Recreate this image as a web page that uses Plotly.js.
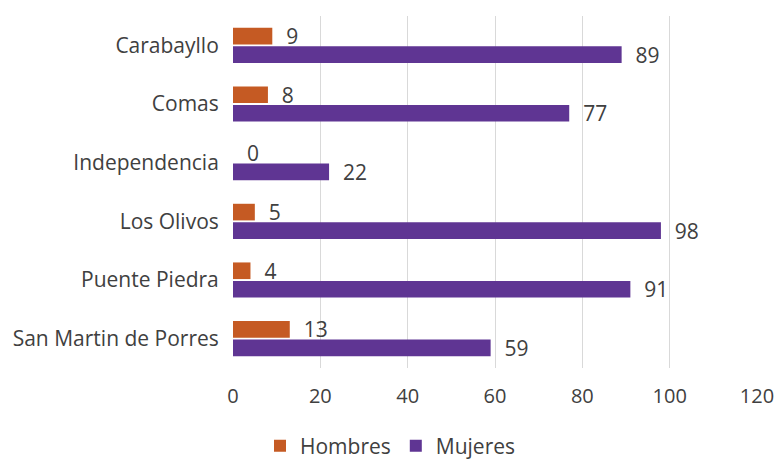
<!DOCTYPE html>
<html><head><meta charset="utf-8">
<script src="https://cdn.plot.ly/plotly-3.0.1.min.js"></script>
<style>html,body{margin:0;padding:0;background:#fff}#c{width:781px;height:459px}</style>
</head><body><div id="c"></div>
<script>
const categories = ["Carabayllo","Comas","Independencia","Los Olivos","Puente Piedra","San Martin de Porres"];
const hombres = [9,8,0,5,4,13];
const mujeres = [89,77,22,98,91,59];
const xTicks = [0,20,40,60,80,100,120];

const fam = "'Open Sans', 'Noto Sans', sans-serif";
const font = {family: fam, size: 21, color: "#404040"};
const tickFont = {family: fam, size: 20, color: "#404040"};
const traces = [
  {type:"bar", orientation:"h", name:"Hombres", y:categories, x:hombres,
   marker:{color:"#C55A23"}, text:hombres.map(v=>"  "+v), textposition:"outside",
   constraintext:"none", textfont:font, cliponaxis:false, hoverinfo:"x"},
  {type:"bar", orientation:"h", name:"Mujeres", y:categories, x:mujeres,
   marker:{color:"#5F3593"}, text:mujeres.map(v=>"  "+v), textposition:"outside",
   constraintext:"none", textfont:font, cliponaxis:false, hoverinfo:"x"}
];
const layout = {
  width:781, height:459, margin:{l:233, r:24, t:16, b:91, autoexpand:false},
  paper_bgcolor:"#fff", plot_bgcolor:"#fff", font:font,
  barmode:"group", bargap:0.37, bargroupgap:0.1,
  xaxis:{range:[0,120], tickvals:xTicks, showgrid:true, gridcolor:"#d9d9d9", gridwidth:1,
         zeroline:false, showline:false, ticks:"outside", ticklen:10, tickcolor:"rgba(0,0,0,0)",
         tickfont:tickFont, fixedrange:true, automargin:false},
  yaxis:{autorange:"reversed", showgrid:false, zeroline:false, showline:false,
         ticks:"outside", ticklen:9, tickcolor:"rgba(0,0,0,0)", tickfont:font, automargin:false},
  showlegend:true,
  legend:{orientation:"h", x:0.5, xref:"container", xanchor:"center", y:0.028, yref:"container", yanchor:"middle",
          font:font, traceorder:"normal", itemwidth:30},
  uniformtext:{mode:false}
};
Plotly.newPlot("c", traces, layout, {displayModeBar:false, staticPlot:true});
</script></body></html>
